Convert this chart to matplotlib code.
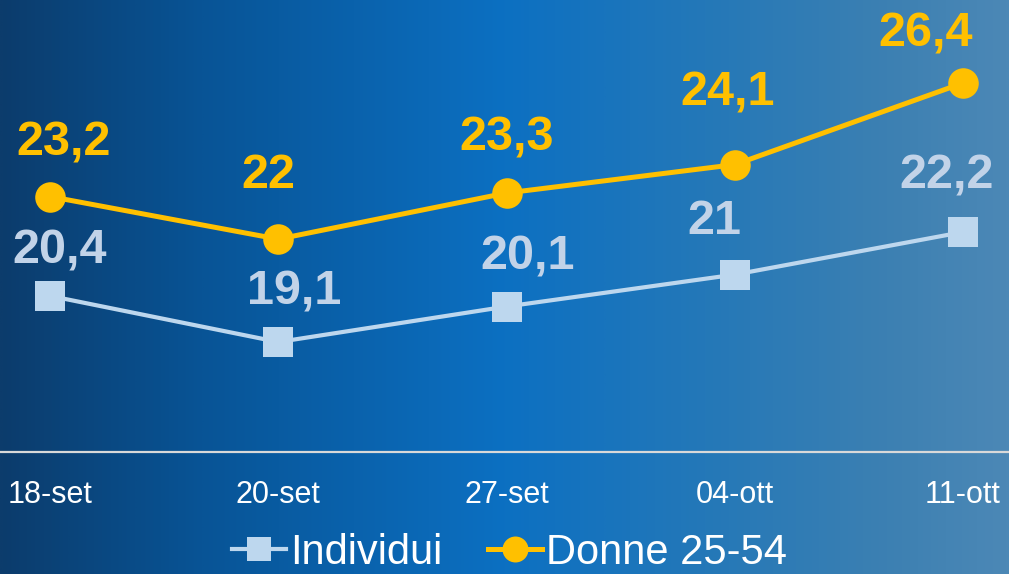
import numpy as np
import matplotlib.pyplot as plt
from matplotlib.colors import LinearSegmentedColormap

dates = ['18-set', '20-set', '27-set', '04-ott', '11-ott']
individui = [20.4, 19.1, 20.1, 21.0, 22.2]
donne = [23.2, 22.0, 23.3, 24.1, 26.4]

def fmt(v):
    return f'{v:g}'.replace('.', ',')

# label nudges in pixels (the labels were placed by hand in the original)
donne_off = [(14, 54), (-10, 64), (0, 55), (-7, 72), (-37, 49)]
ind_off = [(10, 45), (16, 50), (21, 50), (-20, 53), (-16, 56)]

ORANGE = '#FFC000'
LIGHT = '#BDD7EE'
LIGHT_TXT = '#C2D3E8'

plt.rcParams['font.family'] = ['Liberation Sans', 'DejaVu Sans']

fig = plt.figure(figsize=(10.09, 5.74), dpi=100)

# background gradient
bg = fig.add_axes([0, 0, 1, 1], zorder=0)
stops = [(0.0, (12/255, 60/255, 108/255)),
         (0.2, (8/255, 84/255, 150/255)),
         (0.5, (12/255, 112/255, 194/255)),
         (0.7, (36/255, 120/255, 184/255)),
         (0.88, (60/255, 128/255, 178/255)),
         (1.0, (76/255, 136/255, 182/255))]
cmap = LinearSegmentedColormap.from_list('bg', stops)
grad = np.tile(np.linspace(0, 1, 512), (64, 1))
bg.imshow(grad, aspect='auto', cmap=cmap, extent=[0, 1, 0, 1])
bg.axis('off')

ax = fig.add_axes([0, (574 - 452) / 574, 1, 452 / 574], zorder=1)
ax.patch.set_alpha(0)
x = np.arange(len(dates))

ax.plot(x, individui, color=LIGHT, lw=3, marker='s', ms=21,
        markeredgewidth=0, label='Individui')
ax.plot(x, donne, color=ORANGE, lw=3.6, marker='o', ms=22,
        markeredgewidth=0, label='Donne 25-54')

for i, v in enumerate(donne):
    ax.annotate(fmt(v), (x[i], v), xytext=donne_off[i], textcoords='offset pixels',
                ha='center', va='center', fontsize=35, fontweight='bold', color=ORANGE)
for i, v in enumerate(individui):
    ax.annotate(fmt(v), (x[i], v), xytext=ind_off[i], textcoords='offset pixels',
                ha='center', va='center', fontsize=35, fontweight='bold', color=LIGHT_TXT)

ax.set_xlim(-50 / 228.25, (1009 - 50) / 228.25)
ax.set_ylim(16, 28.74)
ax.set_xticks(x)
ax.set_xticklabels(dates, fontsize=22, color='white')
ax.tick_params(axis='x', length=0, pad=20)
ax.set_yticks([])
for s in ['top', 'right', 'left']:
    ax.spines[s].set_visible(False)
ax.spines['bottom'].set_color('#D9D9D9')
ax.spines['bottom'].set_linewidth(1.6)

leg = fig.legend(loc='center', bbox_to_anchor=(0.505, 1 - 553 / 574), ncol=2,
                 frameon=False, fontsize=30, handlelength=1.3, handletextpad=0.1,
                 columnspacing=1.1, markerscale=0.85, borderpad=0)
for t in leg.get_texts():
    t.set_color('white')

fig.savefig('out.png', dpi=100)
